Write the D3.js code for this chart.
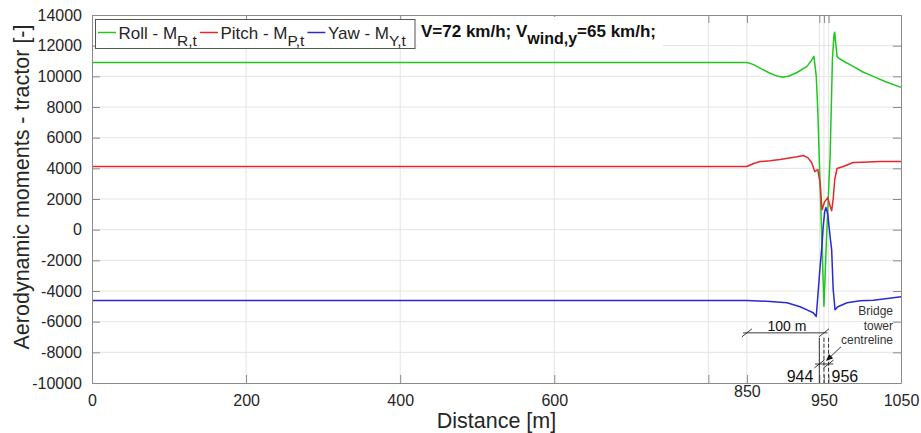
<!DOCTYPE html>
<html>
<head>
<meta charset="utf-8">
<script src="https://cdn.jsdelivr.net/npm/d3@7"></script>
<style>
  html, body { margin: 0; padding: 0; background: #fff; }
  svg { display: block; font-family: "Liberation Sans", Arial, Helvetica, sans-serif; }
</style>
</head>
<body>
<svg id="chart" width="921" height="433"></svg>
<script>
// Aerodynamic moments on the tractor along the route (distance in m)
const rollDistance = [0, 850, 858, 870, 880, 890, 897, 905, 915, 928, 934, 937, 940, 942, 944, 947, 950, 953, 956, 958, 961, 963, 964, 965, 967, 970, 975, 988, 1000, 1014, 1030, 1050];
const rollMoment   = [10900, 10900, 10780, 10450, 10200, 10000, 9940, 10020, 10250, 10650, 11050, 11300, 10000, 7800, 4500, -200, -5000, -1000, 2500, 4800, 11100, 12700, 12870, 12300, 11300, 11150, 11000, 10650, 10300, 10000, 9650, 9280];

const pitchDistance = [0, 850, 858, 867, 880, 893, 905, 915, 923, 929, 934, 938, 942, 945, 947.5, 951, 955, 957, 960, 962, 964, 967, 975, 988, 1000, 1023, 1050];
const pitchMoment   = [4120, 4120, 4300, 4440, 4500, 4575, 4680, 4760, 4840, 4700, 4380, 3790, 3920, 3070, 1300, 1830, 2090, 1700, 1240, 2000, 3270, 3990, 4120, 4380, 4400, 4440, 4440];

const yawDistance = [0, 850, 880, 902, 919, 928, 936, 940, 942.7, 945, 947, 949, 951, 952.6, 955, 958, 960, 962, 964.4, 968, 980, 997, 1014, 1030, 1050];
const yawMoment   = [-4620, -4620, -4680, -4770, -5030, -5230, -5420, -5660, -3920, -2400, -1300, 200, 1180, 1440, 1000, -460, -1300, -3900, -5230, -5030, -4770, -4640, -4600, -4500, -4380];

const seriesNames  = ["Roll - M", "Pitch - M", "Yaw - M"];
const seriesSubs   = ["R,t", "P,t", "Y,t"];
const seriesColors = ["#1fc71f", "#e8262b", "#2a2ad0"];

const xTickValues  = [0, 200, 400, 600, 800, 850, 944, 950, 956, 1050];
const xLabelValues = [0, 200, 400, 600, 850, 950, 1050];
const yTickValues  = [-10000, -8000, -6000, -4000, -2000, 0, 2000, 4000, 6000, 8000, 10000, 12000, 14000];

const svg = d3.select("#chart");
const plotLeft = 92, plotRight = 901, plotTop = 15, plotBottom = 383;

const x = d3.scaleLinear().domain([0, 1050]).range([plotLeft, plotRight]);
const y = d3.scaleLinear().domain([-10000, 14000]).range([plotBottom, plotTop]);

const gridColor = "#e4e4e4";
const boxColor = "#8a8a8a";
const textColor = "#262626";
const tickLen = 8;

// grid
const grid = svg.append("g");
grid.selectAll("line.gx").data(xTickValues.filter(v => v > 0 && v < 1050)).join("line")
  .attr("x1", d => x(d)).attr("x2", d => x(d)).attr("y1", plotTop).attr("y2", plotBottom)
  .attr("stroke", gridColor).attr("stroke-width", 1);
grid.selectAll("line.gy").data(yTickValues.filter(v => v > -10000 && v < 14000)).join("line")
  .attr("x1", plotLeft).attr("x2", plotRight).attr("y1", d => y(d)).attr("y2", d => y(d))
  .attr("stroke", gridColor).attr("stroke-width", 1);

// series lines
const series = [
  { dist: rollDistance, vals: rollMoment },
  { dist: pitchDistance, vals: pitchMoment },
  { dist: yawDistance, vals: yawMoment }
];
const line = d3.line().x(d => x(d[0])).y(d => y(d[1]));
series.forEach((s, i) => {
  svg.append("path")
    .datum(d3.zip(s.dist, s.vals))
    .attr("d", line)
    .attr("fill", "none")
    .attr("stroke", seriesColors[i])
    .attr("stroke-width", 1.5)
    .attr("stroke-linejoin", "round");
});

// axes: bottom/left with labels, top/right mirrored ticks
const xAxisBottom = d3.axisBottom(x).tickValues(xTickValues).tickSizeInner(-tickLen).tickSizeOuter(0)
  .tickFormat(d => xLabelValues.includes(d) ? String(d) : "");
const xAxisTop = d3.axisTop(x).tickValues(xTickValues).tickSizeInner(-tickLen).tickSizeOuter(0).tickFormat("");
const yAxisLeft = d3.axisLeft(y).tickValues(yTickValues).tickSizeInner(-tickLen).tickSizeOuter(0).tickFormat(d => String(d));
const yAxisRight = d3.axisRight(y).tickValues(yTickValues).tickSizeInner(-tickLen).tickSizeOuter(0).tickFormat("");

function styleAxis(g) {
  g.selectAll("path.domain").attr("stroke", boxColor);
  g.selectAll(".tick line").attr("stroke", boxColor);
  g.selectAll(".tick text").attr("fill", textColor)
    .attr("font-family", "'Liberation Sans', Arial, sans-serif").attr("font-size", 16);
}

const gxb = svg.append("g").attr("transform", `translate(0,${plotBottom})`).call(xAxisBottom).call(styleAxis);
gxb.selectAll(".tick text").attr("y", 12).attr("dy", "0.71em");
gxb.selectAll(".tick").filter(d => d === 850).select("text").attr("y", 3);
svg.append("g").attr("transform", `translate(0,${plotTop})`).call(xAxisTop).call(styleAxis);
const gyl = svg.append("g").attr("transform", `translate(${plotLeft},0)`).call(yAxisLeft).call(styleAxis);
gyl.selectAll(".tick text").attr("x", -10);
svg.append("g").attr("transform", `translate(${plotRight},0)`).call(yAxisRight).call(styleAxis);

// axis titles
svg.append("text")
  .attr("x", (plotLeft + plotRight) / 2).attr("y", 428)
  .attr("text-anchor", "middle").attr("font-size", 21.5).attr("fill", textColor)
  .text("Distance [m]");
svg.append("text")
  .attr("transform", "translate(29,187) rotate(-90)")
  .attr("text-anchor", "middle").attr("font-size", 21.5).attr("fill", textColor)
  .text("Aerodynamic moments - tractor [-]");

// legend
const legend = svg.append("g");
legend.append("rect").attr("x", 95.5).attr("y", 19.5).attr("width", 319.5).attr("height", 29)
  .attr("fill", "#fff").attr("stroke", "#555").attr("stroke-width", 1);
let lx = 98;
seriesNames.forEach((name, i) => {
  legend.append("line").attr("x1", lx).attr("x2", lx + 18).attr("y1", 32.5).attr("y2", 32.5)
    .attr("stroke", seriesColors[i]).attr("stroke-width", 1.5);
  const t = legend.append("text").attr("x", lx + 20.5).attr("y", 38.5)
    .attr("font-size", 17).attr("fill", textColor);
  t.append("tspan").text(name);
  t.append("tspan").attr("dy", 7).attr("font-size", 15.5).text(seriesSubs[i]);
  lx += 20.5 + t.node().getComputedTextLength() + 3;
});

// operating condition note
svg.append("rect").attr("x", 417).attr("y", 17).attr("width", 246).attr("height", 33).attr("fill", "#fff");
const note = svg.append("text").attr("x", 421).attr("y", 37)
  .attr("font-size", 17).attr("font-weight", "bold").attr("fill", "#111");
note.append("tspan").text("V=72 km/h; V");
note.append("tspan").attr("dy", 6.5).attr("font-size", 16).text("wind,y");
note.append("tspan").attr("dy", -6.5).text("=65 km/h;");

// bridge tower dimensions
const ann = svg.append("g").attr("stroke", "#222").attr("stroke-width", 0.9).attr("fill", "none");
const dimY = -6730, markY = -8760, lineTop = -7050;
function slash(g, d, v) {
  g.append("line").attr("x1", x(d) - 5).attr("y1", y(v) + 4).attr("x2", x(d) + 5).attr("y2", y(v) - 4);
}
ann.append("line").attr("x1", x(845)).attr("x2", x(954.5)).attr("y1", y(dimY)).attr("y2", y(dimY));
slash(ann, 850, dimY); slash(ann, 950, dimY);
ann.append("line").attr("x1", x(944)).attr("x2", x(944)).attr("y1", y(lineTop)).attr("y2", plotBottom);
ann.append("line").attr("x1", x(950)).attr("x2", x(950)).attr("y1", y(lineTop)).attr("y2", plotBottom).attr("stroke-dasharray", "4,2");
ann.append("line").attr("x1", x(956)).attr("x2", x(956)).attr("y1", y(lineTop)).attr("y2", plotBottom).attr("stroke-dasharray", "4,2");
ann.append("line").attr("x1", x(938.5)).attr("x2", x(962)).attr("y1", y(markY)).attr("y2", y(markY));
slash(ann, 944, markY); slash(ann, 956, markY);

// arrow pointing at the tower centreline
const ax1 = x(972), ay1 = y(-7646), ax2 = x(952.6), ay2 = y(-8561);
const ang = Math.atan2(ay2 - ay1, ax2 - ax1);
ann.append("line").attr("x1", ax1).attr("y1", ay1).attr("x2", ax2 - 6 * Math.cos(ang)).attr("y2", ay2 - 6 * Math.sin(ang));
const ah = 7, aw = 3;
svg.append("path")
  .attr("d", `M${ax2},${ay2} L${ax2 - ah * Math.cos(ang) + aw * Math.sin(ang)},${ay2 - ah * Math.sin(ang) - aw * Math.cos(ang)} L${ax2 - ah * Math.cos(ang) - aw * Math.sin(ang)},${ay2 - ah * Math.sin(ang) + aw * Math.cos(ang)} Z`)
  .attr("fill", "#111");

svg.append("text").attr("x", x(944) - 6).attr("y", 382).attr("text-anchor", "end")
  .attr("font-size", 16).attr("fill", "#111").text("944");
svg.append("text").attr("x", x(956) + 3).attr("y", 382).attr("text-anchor", "start")
  .attr("font-size", 16).attr("fill", "#111").text("956");
svg.append("text").attr("x", x(902)).attr("y", 331).attr("text-anchor", "middle")
  .attr("font-size", 14).attr("fill", "#111").text("100 m");

const towerLines = ["Bridge", "tower", "centreline"];
svg.append("g").selectAll("text").data(towerLines).join("text")
  .attr("x", 893).attr("y", (d, i) => 315 + i * 14.5)
  .attr("text-anchor", "end").attr("font-size", 12).attr("fill", "#333")
  .text(d => d);
</script>
</body>
</html>
